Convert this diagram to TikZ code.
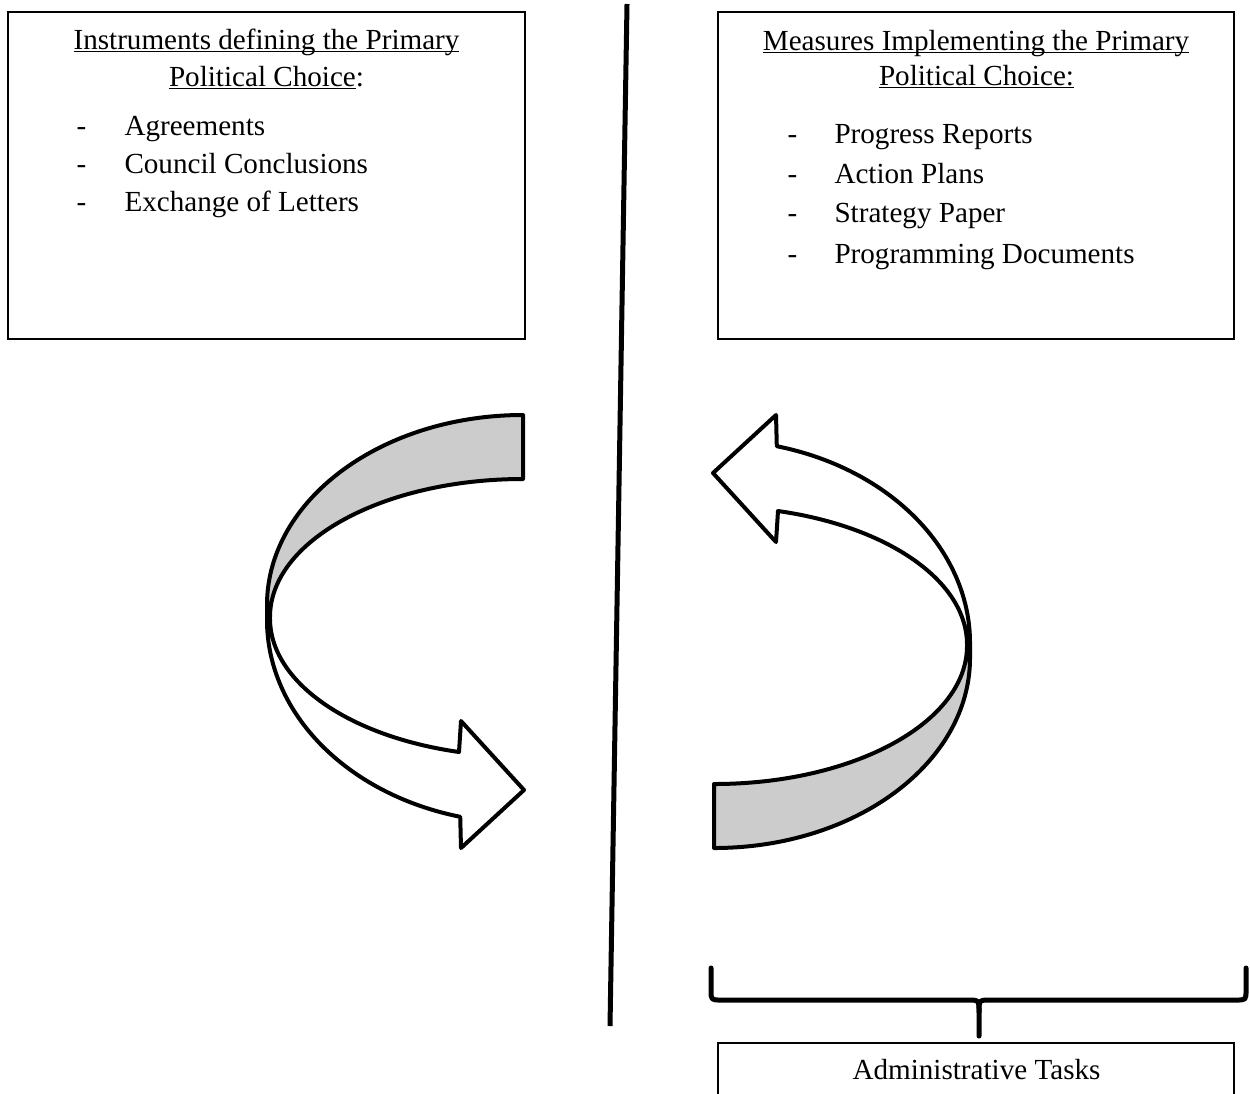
\documentclass[tikz,border=0pt]{standalone}
\usepackage{fontspec}
\setmainfont{Liberation Serif}
\definecolor{bandgray}{RGB}{204,204,204}
\newcommand\myul[1]{\setbox0\hbox{#1}\rlap{\rule[-1.3pt]{\wd0}{0.55pt}}\box0}
\tikzset{
  txt/.style={inner sep=0pt, font=\fontsize{11.65}{14}\selectfont},
  boxline/.style={draw=black, line width=0.6pt},
  arrowline/.style={draw=black, line width=1.6pt, line join=round},
  divider/.style={line width=2pt},
  bracepath/.style={line width=2pt, line cap=round, line join=round},
}
\begin{document}
\begin{tikzpicture}[x=0.4pt, y=-0.4pt]
\useasboundingbox[fill=white] (0,0) rectangle (1250,1093);

% boxes
\draw[boxline] (8,12) rectangle (525,339);
\draw[boxline] (718,12) rectangle (1234,339);
\coordinate (abl) at (718,1100);
\coordinate (abr) at (1234,1100);
\draw[boxline] (abl) -- (718,1043) -- (1234,1043) -- (abr);

% left box text
\node[txt, anchor=base] (lt1) at (266.5,49) {\myul{Instruments defining the Primary}};
\node[txt, anchor=base] (lt2) at (266.5,86) {\myul{Political Choice}:};
\node[txt, anchor=base west] (ld1) at (76,135) {-};
\node[txt, anchor=base west] (li1) at (124,135) {Agreements};
\node[txt, anchor=base west] (ld2) at (76,173.3) {-};
\node[txt, anchor=base west] (li2) at (124,173.3) {Council Conclusions};
\node[txt, anchor=base west] (ld3) at (76,211.7) {-};
\node[txt, anchor=base west] (li3) at (124,211.7) {Exchange of Letters};

% right box text
\node[txt, anchor=base] (rt1) at (976,50) {\myul{Measures Implementing the Primary}};
\node[txt, anchor=base] (rt2) at (976.5,85) {\myul{Political Choice:}};
\node[txt, anchor=base west] (rd1) at (787,143) {-};
\node[txt, anchor=base west] (ri1) at (834,143) {Progress Reports};
\node[txt, anchor=base west] (rd2) at (787,183) {-};
\node[txt, anchor=base west] (ri2) at (834,183) {Action Plans};
\node[txt, anchor=base west] (rd3) at (787,222) {-};
\node[txt, anchor=base west] (ri3) at (834,222) {Strategy Paper};
\node[txt, anchor=base west] (rd4) at (787,263) {-};
\node[txt, anchor=base west] (ri4) at (834,263) {Programming Documents};

% bottom text
\node[txt, anchor=base] (adm) at (976.5,1079) {Administrative Tasks};

% divider
\coordinate (dtop) at (627,4);
\coordinate (dbot) at (610,1026);
\draw[divider] (dtop) -- (dbot);

% left curved arrow
\draw[arrowline, fill=bandgray] (523,415) arc[start angle=270, end angle=180, x radius=256, y radius=190]
  -- (270,617) arc[start angle=180, end angle=270, x radius=253, y radius=138] -- cycle;
\draw[arrowline, fill=white] (267,605) -- (267,620) arc[start angle=180, end angle=104.2, x radius=256, y radius=203]
  -- (461,848) -- (524,790) -- (461,721) -- (459,752)
  arc[start angle=104.65, end angle=180, x radius=253, y radius=138] -- cycle;

% right curved arrow (rotated copy)
\begin{scope}[rotate around={180:(618.5,631.5)}]
\draw[arrowline, fill=bandgray] (523,415) arc[start angle=270, end angle=180, x radius=256, y radius=190]
  -- (270,617) arc[start angle=180, end angle=270, x radius=253, y radius=138] -- cycle;
\draw[arrowline, fill=white] (267,605) -- (267,620) arc[start angle=180, end angle=104.2, x radius=256, y radius=203]
  -- (461,848) -- (524,790) -- (461,721) -- (459,752)
  arc[start angle=104.65, end angle=180, x radius=253, y radius=138] -- cycle;
\end{scope}

% brace
\coordinate (bl) at (711,968);
\coordinate (br) at (1246,968);
\coordinate (bm) at (979,1036);
\draw[bracepath] (bl) -- (711,990) .. controls (711,1000) .. (721,1000) -- (967,1000)
  .. controls (979,1000) .. (979,1012) -- (bm);
\draw[bracepath] (br) -- (1246,990) .. controls (1246,1000) .. (1236,1000) -- (991,1000)
  .. controls (979,1000) .. (979,1012);
\end{tikzpicture}
\end{document}
